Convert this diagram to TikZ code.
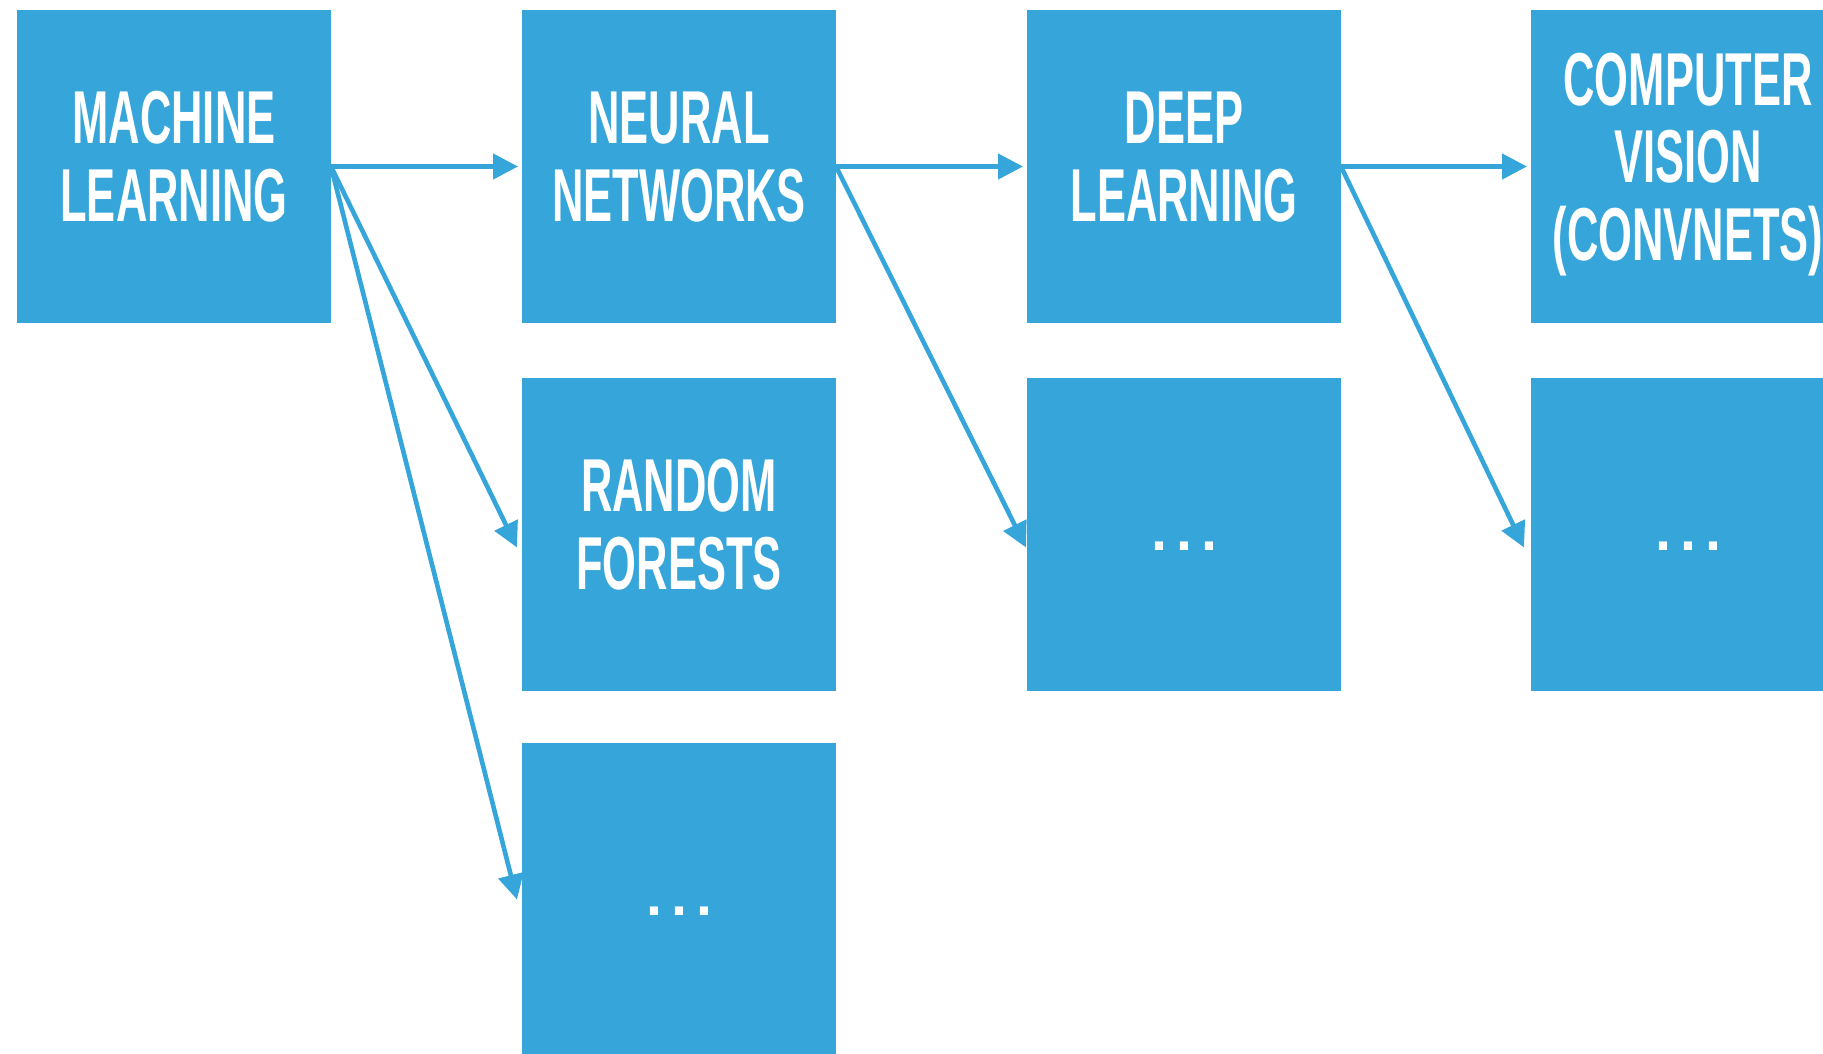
\documentclass[tikz,border=0pt]{standalone}
\usepackage{fontspec}
\setmainfont{Liberation Sans}[FakeStretch=0.58]
\newfontfamily\dotfamily{Liberation Sans}
\usetikzlibrary{arrows.meta,calc}
\definecolor{mlblue}{RGB}{53,165,218}
\newcommand\bighead{\fontsize{75}{77.5}\selectfont\bfseries}
\newcommand\dotsrow{\vphantom{E}{\dotfamily\fontsize{57.5}{60}\selectfont\bfseries .\kern9pt.\kern9pt.}}
\begin{document}
\begin{tikzpicture}[x=1pt,y=-1pt,
  box/.style={fill=mlblue, minimum width=314pt, minimum height=313pt,
    inner sep=0pt, outer sep=0pt, text=white, font=\bighead, align=center,
    text depth=20pt},
  conn/.style={draw=mlblue, line width=4.6pt, -{Triangle[length=25pt,width=25pt]}}]
\clip (0,0) rectangle (1823,1053);
\useasboundingbox (0,0) rectangle (1823,1053);
\node[box] (ml)  at (174,166.5)  {MACHINE\\LEARNING};
\node[box] (nn)  at (679,166.5)  {NEURAL\\NETWORKS};
\node[box] (rf)  at (679,534.5)  {RANDOM\\FORESTS};
\node[box] (mlo) at (679,899.5)  {\dotsrow};
\node[box] (dl)  at (1184,166.5) {DEEP\\LEARNING};
\node[box] (dlo) at (1184,534.5) {\dotsrow};
\node[box] (cv)  at (1688,166.5) {COMPUTER\\VISION\\(CONVNETS)};
\node[box] (cvo) at (1688,534.5) {\dotsrow};
\draw[conn] (ml.east) -- ($(nn.west)+(-4,0)$);
\draw[conn] (ml.east) -- ($(rf.west)+(-5,13)$);
\draw[conn] (ml.east) -- ($(mlo.west)+(-5,0)$);
\draw[conn] (nn.east) -- ($(dl.west)+(-4,0)$);
\draw[conn] (nn.east) -- ($(dlo.west)+(-1,13)$);
\draw[conn] (dl.east) -- ($(cv.west)+(-4,0)$);
\draw[conn] (dl.east) -- ($(cvo.west)+(-7,13)$);
\end{tikzpicture}
\end{document}
